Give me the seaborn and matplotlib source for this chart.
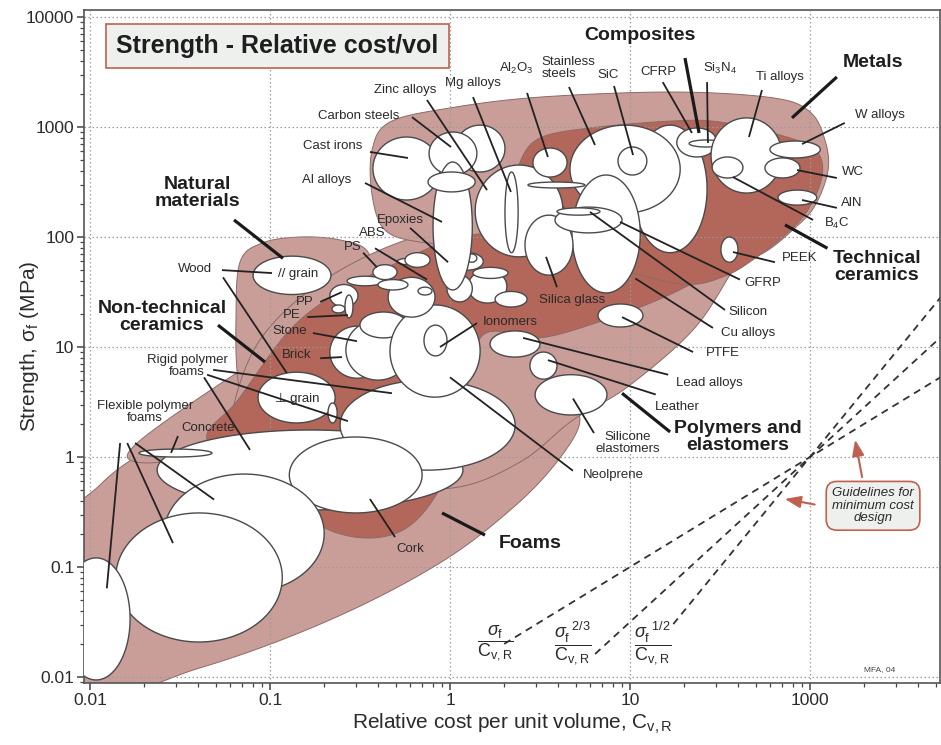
import numpy as np
import pandas as pd
import matplotlib
matplotlib.use("Agg")
import matplotlib.pyplot as plt
import seaborn as sns

# ---------------------------------------------------------------------------
# Material property ranges: relative cost per unit volume and strength (MPa)
# (listed in drawing order, later bubbles sit on top of earlier ones)
# ---------------------------------------------------------------------------
mat_names = [
    "Rigid polymer foam (HD)", "Natural rubber", "Cork", "Rigid polymer foam (MD)",
    "Flexible polymer foam (MD)", "Flexible polymer foam (LD)", "Concrete",
    "Wood // grain", "Wood perp. grain", "Bamboo",
    "Brick", "Stone", "Limestone",
    "Neoprene", "Ionomers",
    "PP", "PP filled", "PE", "PS", "PMMA", "PC", "PA", "PET", "POM", "ABS",
    "EVA", "PU", "Phenolics", "Polyester", "PVC", "Butyl rubber", "Epoxies",
    "Soda glass", "Mg alloys", "Glass fibre", "Cast irons", "Zinc alloys",
    "Carbon steels", "Al alloys", "Cast Al alloys",
    "Ni alloys", "Stainless steels", "Cu alloys", "Silica glass", "Al2O3",
    "Borosilicate glass", "SiC", "GFRP", "Silicon", "CFRP", "Si3N4",
    "Ti alloys", "B4C", "W alloys", "WC", "AlN", "PEEK",
    "PTFE", "Lead alloys", "Leather", "Silicone elastomers",
]
mat_cost_lo = [
    0.0236, 0.245, 0.128, 0.0258, 0.0139, 0.0070, 0.0187,
    0.0805, 0.0858, 0.210,
    0.215, 0.264, 0.316,
    0.464, 0.717,
    0.215, 0.221, 0.261, 0.453, 0.268, 0.398, 0.373, 0.664, 0.508, 0.562,
    1.26, 0.962, 1.03, 1.24, 1.34, 1.78, 0.858,
    2.07, 1.38, 2.02, 0.373, 1.07,
    0.765, 0.805, 0.755,
    10.4, 4.64, 4.76, 2.61, 2.89,
    2.71, 8.58, 3.83, 3.93, 18.2, 21.3,
    28.2, 28.6, 59.9, 56.2, 66.4, 32.0,
    6.64, 1.67, 2.78, 2.97,
]
mat_cost_hi = [
    1.18, 2.30, 0.70, 0.20, 0.117, 0.0167, 0.0476,
    0.218, 0.230, 0.236,
    0.435, 0.60, 0.577,
    1.47, 0.962,
    0.308, 0.261, 0.289, 0.825, 0.425, 0.584, 0.508, 0.794, 0.681, 0.774,
    2.07, 1.33, 1.53, 1.41, 2.10, 2.68, 0.962,
    4.94, 4.24, 2.39, 0.88, 2.02,
    1.41, 1.33, 1.38,
    26.8, 19.0, 11.4, 4.82, 4.47,
    5.62, 12.4, 9.03, 6.81, 30.4, 32.9,
    69.9, 42.4, 114.0, 88.0, 109.0, 39.8,
    11.8, 3.16, 3.93, 7.45,
]
mat_strength_lo = [
    0.33, 0.76, 0.31, 0.058, 0.0208, 0.0094, 1.0,
    30.0, 2.04, 2.04,
    5.2, 5.0, 12.1,
    3.5, 8.3,
    23.1, 20.4, 18.4, 18.7, 36.0, 33.0, 41.0, 29.7, 56.0, 53.0,
    25.1, 25.7, 50.0, 59.0, 42.0, 23.1, 45.0,
    64.0, 66.0, 72.0, 217.0, 390.0,
    366.0, 33.0, 257.0,
    72.0, 165.0, 31.0, 45.0, 351.0,
    279.0, 366.0, 109.0, 158.0, 534.0, 658.0,
    251.0, 344.0, 523.0, 344.0, 195.0, 59.0,
    15.2, 8.1, 5.1, 2.41,
]
mat_strength_hi = [
    1.76, 5.0, 1.52, 0.70, 0.31, 0.121, 1.18,
    67.0, 5.9, 3.1,
    15.5, 17.6, 20.8,
    24.1, 15.8,
    37.0, 24.1, 29.7, 43.0, 44.0, 41.0, 56.0, 35.0, 64.0, 72.0,
    50.0, 45.0, 72.0, 70.0, 53.0, 32.0, 94.0,
    217.0, 451.0, 390.0, 811.0, 1040.0,
    900.0, 481.0, 390.0,
    1040.0, 1040.0, 366.0, 158.0, 644.0,
    316.0, 658.0, 187.0, 184.0, 980.0, 762.0,
    1210.0, 534.0, 746.0, 523.0, 267.0, 100.0,
    24.6, 14.0, 9.0, 5.6,
]

# ---------------------------------------------------------------------------
# Family envelopes (outline points: cost, strength)
# ---------------------------------------------------------------------------
foams_env_cost = [0.0068, 0.0408, 0.215, 0.88, 2.3, 4.08, 5.27, 4.08, 1.67, 0.528,
                  0.147, 0.0464, 0.0215, 0.0114, 0.0068]
foams_env_strength = [0.0062, 0.0121, 0.033, 0.109, 0.36, 0.98, 2.17, 3.4, 3.1, 2.51,
                      2.04, 1.65, 1.16, 0.56, 0.176]

nontech_env_cost = [0.0173, 0.0278, 0.0664, 0.147, 0.316, 0.60, 0.726, 0.528, 0.245,
                    0.1136, 0.0528, 0.0245, 0.0167]
nontech_env_strength = [1.23, 2.26, 5.9, 12.9, 26.7, 37.0, 26.7, 11.6, 5.0,
                        2.17, 1.21, 0.90, 0.94]

natural_env_cost = [0.0681, 0.0903, 0.147, 0.245, 0.35, 0.383, 0.324, 0.278, 0.19,
                    0.1136, 0.0774, 0.0664, 0.0647]
natural_env_strength = [59.0, 88.0, 100.0, 94.0, 73.0, 33.0, 9.4, 2.17, 1.29,
                        1.23, 1.76, 5.0, 17.6]

polymer_env_cost = [0.0774, 0.278, 1.0, 2.45, 4.82, 9.62, 22.4, 37.3, 52.7, 59.9,
                    40.8, 12.9, 3.59, 1.14, 0.408, 0.167, 0.088, 0.064, 0.0615]
polymer_env_strength = [0.76, 0.62, 0.52, 0.90, 2.17, 4.3, 14.3, 50.0, 121.0, 195.0,
                        217.0, 195.0, 169.0, 129.0, 76.0, 33.0, 11.6, 3.3, 1.16]

metals_env_cost = [0.369, 0.464, 1.0, 3.16, 17.3, 62.3, 100.0, 121.0, 126.0, 107.0,
                   82.5, 52.7, 31.6, 11.4, 4.08, 1.47, 0.681, 0.435, 0.369]
metals_env_strength = [618.0, 1110.0, 1490.0, 1870.0, 2080.0, 1840.0, 1370.0, 762.0,
                       406.0, 195.0, 121.0, 69.0, 59.0, 69.0, 79.0, 85.0, 90.0, 116.0, 241.0]

polymer_core_cost = [0.0447, 0.0664, 0.129, 0.245, 0.528, 1.14, 2.79, 8.8, 24.5, 45.3,
                     44.3, 32.9, 21.5, 12.9, 6.81, 3.16, 1.53, 1.2, 0.93, 0.528,
                     0.224, 0.088]
polymer_core_strength = [1.43, 3.3, 14.3, 32.0, 60.0, 100.0, 113.0, 124.0, 124.0, 116.0,
                         80.0, 59.0, 37.0, 25.0, 17.0, 12.1, 12.9, 3.2, 0.62, 0.21,
                         0.21, 0.62]

composite_core_cost = [2.45, 3.16, 5.99, 17.3, 31.6, 68.1, 107.0, 117.0, 97.5, 72.6,
                       49.5, 34.6, 21.5, 11.4, 5.27, 2.78, 2.21]
composite_core_strength = [481.0, 794.0, 980.0, 1135.0, 1110.0, 846.0, 618.0, 366.0,
                           176.0, 104.0, 64.0, 45.0, 37.0, 45.0, 69.0, 104.0, 217.0]

# ---------------------------------------------------------------------------
# Labels: text, anchor (cost, strength), leader line end point
# ---------------------------------------------------------------------------
label_text = ["Zinc alloys", "Mg alloys", "Al$_2$O$_3$", "SiC", "CFRP", "Si$_3$N$_4$",
              "Ti alloys", "W alloys", "WC", "AlN", "B$_4$C", "PEEK", "GFRP", "Silicon",
              "Cu alloys", "PTFE", "Lead alloys", "Leather", "Silicone\nelastomers",
              "Neolprene", "Ionomers", "Silica glass", "Cork", "Concrete",
              "Flexible polymer\nfoams", "Rigid polymer\nfoams", "Wood", "// grain",
              "\u22a5 grain", "PP", "PE", "Stone", "Brick", "PS", "ABS", "Epoxies",
              "Al alloys", "Cast irons", "Carbon steels"]
label_cost = [0.562, 1.342, 2.33, 7.55, 14.3, 31.6, 68.1, 245.0, 173.0, 171.0, 141.0,
              88.0, 54.8, 45.3, 45.3, 32.9, 27.5, 18.2, 9.75, 8.05, 2.154, 4.76, 0.60,
              0.0453, 0.0202, 0.0346, 0.0383, 0.143, 0.141, 0.156, 0.1326, 0.129,
              0.141, 0.289, 0.369, 0.528, 0.207, 0.224, 0.312]
label_strength = [2170.0, 2510.0, 3440.0, 2970.0, 3160.0, 3440.0, 2850.0, 1290.0, 390.0,
                  204.0, 134.0, 64.0, 38.0, 20.8, 13.4, 8.8, 4.7, 2.85, 1.34, 0.69, 16.9,
                  26.7, 0.146, 1.84, 2.56, 6.7, 51.0, 46.0, 3.4, 25.7, 19.5, 14.0, 8.5,
                  81.0, 109.0, 143.0, 330.0, 672.0, 1260.0]

steels_text = "Stainless\nsteels"
steels_cost, steels_strength = 3.24, 3440.0

family_text = ["Composites", "Metals", "Technical\nceramics", "Natural\nmaterials",
               "Non-technical\nceramics", "Polymers and\nelastomers", "Foams"]
family_cost = [11.4, 224.0, 235.0, 0.0396, 0.0251, 39.8, 2.78]
family_strength = [6860.0, 3820.0, 53.0, 251.0, 18.7, 1.52, 0.165]

# leader lines for material labels: (start cost, start strength, end cost, end strength)
leader_c0 = [0.745, 0.615, 0.359, 0.337, 0.60, 0.383, 0.329, 0.19, 0.161, 0.173, 0.19,
             0.0541, 0.0548, 0.0483, 0.0447, 0.043, 0.0147, 0.0161, 0.0178, 0.0308,
             0.495, 4.82, 6.31, 13.9, 16.3, 22.4, 28.9, 33.7, 40.8, 3.93, 1.413, 63.9,
             104.0, 141.0, 141.0, 156.0, 54.1, 26.8, 15.2, 8.15, 4.58, 2.68, 1.342]
leader_s0 = [1760.0, 1230.0, 593.0, 310.0, 121.0, 79.0, 72.0, 25.7, 18.7, 13.4, 7.9,
             50.0, 43.0, 6.2, 5.6, 5.3, 1.34, 1.34, 1.34, 1.55,
             0.187, 0.75, 1.65, 3.7, 5.6, 9.0, 14.9, 21.7, 41.0, 35.0, 16.5, 59.0,
             143.0, 184.0, 344.0, 1090.0, 2170.0, 2560.0, 2560.0, 2360.0, 2310.0, 2040.0, 1870.0]
leader_c1 = [1.606, 1.013, 0.584, 0.903, 0.975, 0.745, 0.393, 0.251, 0.271, 0.304, 0.251,
             0.1026, 0.124, 0.476, 0.271, 0.0774, 0.0124, 0.0289, 0.0489, 0.0282,
             0.359, 1.0, 4.82, 3.5, 2.545, 9.03, 10.7, 5.99, 8.8, 3.415, 0.88, 37.3,
             37.3, 90.3, 84.7, 90.3, 45.8, 27.1, 22.1, 10.4, 6.39, 3.5, 2.18]
leader_s1 = [267.0, 658.0, 523.0, 137.0, 59.0, 41.0, 53.0, 31.6, 19.5, 11.3, 8.1,
             47.0, 5.8, 3.8, 2.12, 1.16, 0.064, 0.165, 0.41, 1.09,
             0.415, 5.3, 3.4, 7.6, 12.1, 18.7, 42.0, 169.0, 137.0, 66.0, 10.0, 73.0,
             351.0, 217.0, 406.0, 700.0, 811.0, 716.0, 882.0, 556.0, 686.0, 534.0, 257.0]

# leader lines for family labels
family_c0 = [20.2, 141.0, 125.0, 0.0631, 0.0514, 16.7, 1.565]
family_s0 = [4240.0, 2850.0, 79.0, 143.0, 15.8, 1.69, 0.195]
family_c1 = [24.2, 79.4, 72.6, 0.118, 0.0938, 9.03, 0.903]
family_s1 = [882.0, 1210.0, 129.0, 64.0, 7.3, 3.8, 0.31]

# minimum-cost design guidelines: sigma^(1/n) / C = const  ->  sigma ~ C^n
guide_exponents = [1.0, 1.5, 2.0]
guide_start_cost = [2.0, 6.4, 17.4]
guide_ref_cost, guide_ref_strength = 100.0, 1.0
guide_text = [r"$\dfrac{\sigma_\mathrm{f}}{\mathrm{C}_\mathrm{v,R}}$",
              r"$\dfrac{\sigma_\mathrm{f}^{\;\;\mathrm{2/3}}}{\mathrm{C}_\mathrm{v,R}}$",
              r"$\dfrac{\sigma_\mathrm{f}^{\;\;\mathrm{1/2}}}{\mathrm{C}_\mathrm{v,R}}$"]
guide_text_cost = [1.78, 4.82, 13.4]
guide_text_strength = [0.0204, 0.0204, 0.0204]

x_ticks = [0.01, 0.1, 1, 10, 100]
x_tick_labels = ["0.01", "0.1", "1", "10", "1000"]
y_ticks = [0.01, 0.1, 1, 10, 100, 1000, 10000]
y_tick_labels = ["0.01", "0.1", "1", "10", "100", "1000", "10000"]

# ---------------------------------------------------------------------------
sns.set_theme(style="white")
plt.rcParams["font.family"] = ["Liberation Sans", "DejaVu Sans"]
plt.rcParams["mathtext.fontset"] = "custom"
plt.rcParams["mathtext.rm"] = "Liberation Sans"
plt.rcParams["mathtext.it"] = "Liberation Sans:italic"
plt.rcParams["mathtext.bf"] = "Liberation Sans:bold"

LIGHT = "#C99E99"
DARK = "#B3675A"
EDGE = "#8C6A66"
TXT = "#2A2A2A"
BRICK = "#C0604F"

fig = plt.figure(figsize=(9.41, 7.45), dpi=100)
ax = fig.add_axes([84 / 941, 1 - 683 / 745, 856 / 941, 673 / 745])
ax.set_xscale("log")
ax.set_yscale("log")
ax.set_xlim(0.00926, 527.5)
ax.set_ylim(0.00882, 11580)


def closed_curve(cost, strength, n=24):
    """Smooth closed Catmull-Rom curve through the outline points (log space)."""
    P = np.column_stack([np.log10(cost), np.log10(strength)])
    m = len(P)
    t = np.linspace(0, 1, n, endpoint=False)[:, None]
    segs = []
    for i in range(m):
        p0, p1, p2, p3 = P[i - 1], P[i], P[(i + 1) % m], P[(i + 2) % m]
        segs.append(0.5 * (2 * p1 + (-p0 + p2) * t
                           + (2 * p0 - 5 * p1 + 4 * p2 - p3) * t ** 2
                           + (-p0 + 3 * p1 - 3 * p2 + p3) * t ** 3))
    Q = np.vstack(segs)
    Q = np.vstack([Q, Q[:1]])
    return 10 ** Q[:, 0], 10 ** Q[:, 1]


def bubble(clo, chi, slo, shi, n=160):
    lx0, lx1 = np.log10(clo), np.log10(chi)
    ly0, ly1 = np.log10(slo), np.log10(shi)
    t = np.linspace(0, 2 * np.pi, n)
    cx, rx = (lx0 + lx1) / 2, (lx1 - lx0) / 2
    cy, ry = (ly0 + ly1) / 2, (ly1 - ly0) / 2
    return 10 ** (cx + rx * np.cos(t)), 10 ** (cy + ry * np.sin(t))


envelopes = [
    (foams_env_cost, foams_env_strength, LIGHT),
    (nontech_env_cost, nontech_env_strength, LIGHT),
    (natural_env_cost, natural_env_strength, LIGHT),
    (polymer_env_cost, polymer_env_strength, LIGHT),
    (metals_env_cost, metals_env_strength, LIGHT),
    (polymer_core_cost, polymer_core_strength, DARK),
    (composite_core_cost, composite_core_strength, DARK),
]
for c, s, col in envelopes:
    xs, ys = closed_curve(c, s)
    ax.fill(xs, ys, facecolor=col, edgecolor=EDGE, lw=0.7, zorder=1)

ax.grid(True, which="major", linestyle=(0, (1.2, 2.0)), color="#9A9A9A", lw=0.9)
ax.set_axisbelow("line")

for clo, chi, slo, shi in zip(mat_cost_lo, mat_cost_hi, mat_strength_lo, mat_strength_hi):
    xs, ys = bubble(clo, chi, slo, shi)
    ax.fill(xs, ys, facecolor="white", edgecolor="#4A4A4A", lw=1.0, zorder=3)

for c0, s0, c1, s1 in zip(leader_c0, leader_s0, leader_c1, leader_s1):
    ax.plot([c0, c1], [s0, s1], color="#222222", lw=1.3, zorder=5, solid_capstyle="butt")
for c0, s0, c1, s1 in zip(family_c0, family_s0, family_c1, family_s1):
    ax.plot([c0, c1], [s0, s1], color="#1A1A1A", lw=2.3, zorder=5, solid_capstyle="butt")

for txt, c, s in zip(label_text, label_cost, label_strength):
    ax.text(c, s, txt, ha="center", va="center", fontsize=9.5, color=TXT,
            linespacing=1.0, zorder=6)
ax.text(steels_cost, steels_strength, steels_text, ha="left", va="center", fontsize=9.5,
        color=TXT, linespacing=0.95, zorder=6)
for txt, c, s in zip(family_text, family_cost, family_strength):
    ax.text(c, s, txt, ha="center", va="center", fontsize=14, fontweight="bold",
            color="#1E1E1E", linespacing=1.0, zorder=6)

# guidelines for minimum cost design
rows = []
for name, e, x0 in zip(["g1", "g2", "g3"], guide_exponents, guide_start_cost):
    for c in (x0, 700.0):
        rows.append({"line": name, "cost": c,
                     "strength": guide_ref_strength * (c / guide_ref_cost) ** e})
guides = pd.DataFrame(rows)
sns.lineplot(data=guides, x="cost", y="strength", units="line", estimator=None,
             color="#333333", lw=1.3, linestyle=(0, (4, 3)), legend=False, ax=ax,
             zorder=5)
for txt, c, s in zip(guide_text, guide_text_cost, guide_text_strength):
    ax.text(c, s, txt, ha="center", va="center", fontsize=13, color=TXT, zorder=6)

# title box
ax.text(0.11, 5450, "Strength - Relative cost/vol", ha="center", va="center",
        fontsize=18, fontweight="bold", color="#1E1E1E", zorder=7,
        bbox=dict(boxstyle="square,pad=0.4", facecolor="#EEF0EE", edgecolor=BRICK, lw=1.2))

# guideline note with arrows
ax.text(224, 0.36, "Guidelines for\nminimum cost\ndesign", ha="center", va="center",
        fontsize=9.5, style="italic", color=TXT, linespacing=1.05, zorder=7,
        bbox=dict(boxstyle="round,pad=0.45,rounding_size=0.8", facecolor="#EEF0EE",
                  edgecolor=BRICK, lw=1.2))
ax.annotate("", xy=(177, 1.52), xytext=(196, 0.62), zorder=7,
            arrowprops=dict(arrowstyle="-|>,head_length=0.8,head_width=0.3",
                            color=BRICK, lw=1.5))
ax.annotate("", xy=(69.9, 0.42), xytext=(110, 0.366), zorder=7,
            arrowprops=dict(arrowstyle="-|>,head_length=0.8,head_width=0.3",
                            color=BRICK, lw=1.5))
ax.text(245, 0.0116, "MFA, 04", ha="center", va="center", fontsize=6, color="#444444",
        zorder=7)

# axes formatting
ax.set_xticks(x_ticks)
ax.set_xticklabels(x_tick_labels)
ax.set_yticks(y_ticks)
ax.set_yticklabels(y_tick_labels)
ax.xaxis.set_minor_formatter(matplotlib.ticker.NullFormatter())
ax.yaxis.set_minor_formatter(matplotlib.ticker.NullFormatter())
ax.tick_params(which="major", direction="out", length=5, width=1.1, colors="#444444",
               labelsize=12.5, labelcolor=TXT, bottom=True, left=True, pad=2)
ax.tick_params(which="minor", direction="out", length=3, width=0.9, colors="#444444",
               bottom=True, left=True)
for sp in ax.spines.values():
    sp.set_color("#555555")
    sp.set_linewidth(1.2)
ax.set_xlabel("Relative cost per unit volume, C$_{\\mathrm{v,R}}$", fontsize=15,
              color=TXT, labelpad=3)
ax.set_ylabel("Strength, \u03c3$_\\mathrm{f}$ (MPa)", fontsize=15, color=TXT)
ax.yaxis.set_label_coords(-0.05, 0.5)

fig.savefig("out.png", dpi=100)
